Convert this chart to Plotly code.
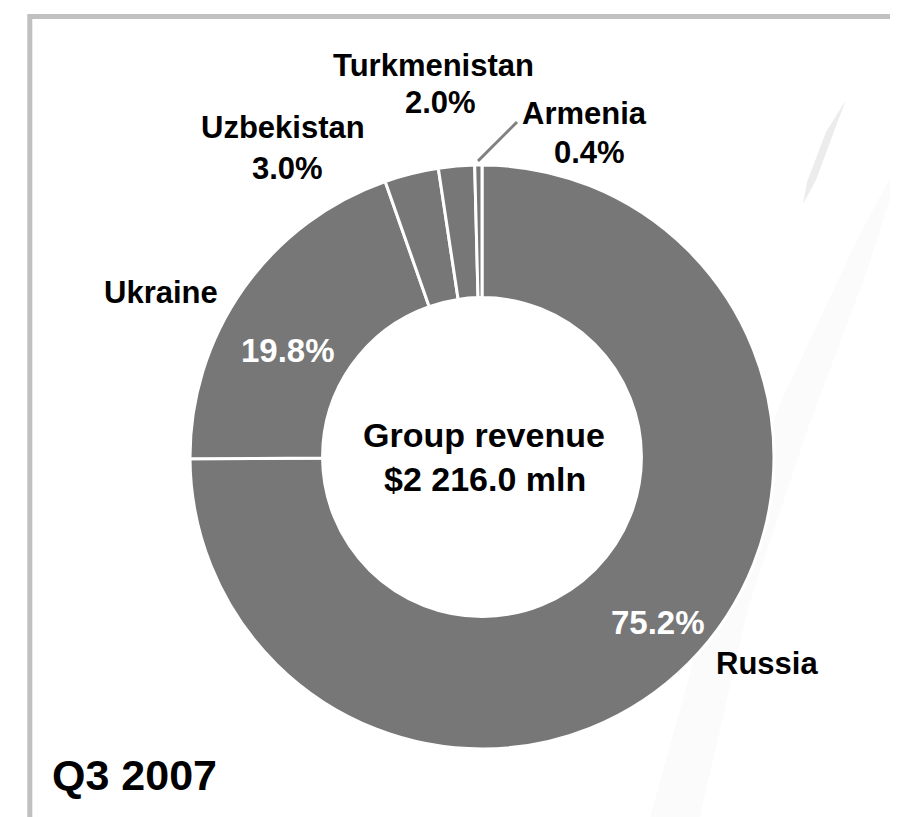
import plotly.graph_objects as go

W, H = 898, 817

# data
countries = ["Russia", "Ukraine", "Uzbekistan", "Turkmenistan", "Armenia"]
shares = [75.2, 19.8, 3.0, 2.0, 0.4]
group_revenue = "$2 216.0 mln"
period = "Q3 2007"

GREY = "#777777"
FONT = "Liberation Sans, Arial, sans-serif"


def px(x):
    return x / W


def py(y):
    return 1 - y / H


def poly(points):
    return "M " + " L ".join(f"{px(x)} {py(y)}" for x, y in points) + " Z"


fig = go.Figure(
    go.Pie(
        labels=countries,
        values=shares,
        sort=False,
        direction="clockwise",
        rotation=0,
        hole=0.546,
        marker=dict(colors=[GREY] * len(countries), line=dict(color="white", width=3)),
        textinfo="none",
        hoverinfo="label+percent",
        showlegend=False,
        domain=dict(x=[px(182), px(766)], y=[py(741), py(157)]),
    )
)

# label spots in pixels: (name line centre, value line centre, value colour)
label_pos = {
    "Russia": ((759, 655), (650, 614), "white"),
    "Ukraine": ((153, 285), (280, 342), "white"),
    "Uzbekistan": ((275, 120), (279, 160), "black"),
    "Turkmenistan": ((425, 58), (432, 95), "black"),
    "Armenia": ((576, 106), (581, 144), "black"),
}

annotations = []
for name, val in zip(countries, shares):
    (nx, ny), (vx, vy), vcol = label_pos[name]
    annotations.append(dict(text=name, x=px(nx), y=py(ny), font=dict(size=31, color="black")))
    annotations.append(dict(text=f"{val:.1f}%", x=px(vx), y=py(vy),
                            font=dict(size=33 if vcol == "white" else 31, color=vcol)))

annotations.append(dict(text="Group revenue", x=px(476), y=py(427), font=dict(size=34, color="black")))
annotations.append(dict(text=group_revenue, x=px(477), y=py(471), font=dict(size=34, color="black")))
annotations.append(dict(text=period, x=px(42), y=py(767), xanchor="left",
                        font=dict(size=43, color="black")))

for a in annotations:
    a.setdefault("xanchor", "center")
    a["yanchor"] = "middle"
    a["xref"] = "paper"
    a["yref"] = "paper"
    a["showarrow"] = False
    a["font"]["family"] = FONT
    a["font"]["weight"] = "bold"

shapes = [
    # faint background swooshes
    dict(type="path", xref="paper", yref="paper", layer="below",
         path=poly([(898, 140), (860, 260), (800, 420), (740, 600), (690, 817),
                    (640, 817), (700, 600), (770, 400), (850, 230)]),
         fillcolor="#fbfbfb", line=dict(width=0)),
    dict(type="path", xref="paper", yref="paper", layer="below",
         path=poly([(838, 92), (831, 110), (808, 172), (795, 196), (799, 174), (818, 124)]),
         fillcolor="#ececec", line=dict(width=0)),
    # frame (open at the bottom)
    dict(type="path", xref="paper", yref="paper",
         path=f"M {px(21.8)} {py(830)} L {px(21.8)} {py(8.5)} L {px(895)} {py(8.5)} L {px(895)} {py(830)}",
         line=dict(color="#c0c0c0", width=5)),
    # Armenia leader line
    dict(type="line", xref="paper", yref="paper",
         x0=px(470), y0=py(153), x1=px(509), y1=py(114),
         line=dict(color="#808080", width=3)),
]

fig.update_layout(
    width=W,
    height=H,
    margin=dict(l=0, r=0, t=0, b=0),
    paper_bgcolor="white",
    plot_bgcolor="white",
    annotations=annotations,
    shapes=shapes,
)

fig.write_html("out.html")
